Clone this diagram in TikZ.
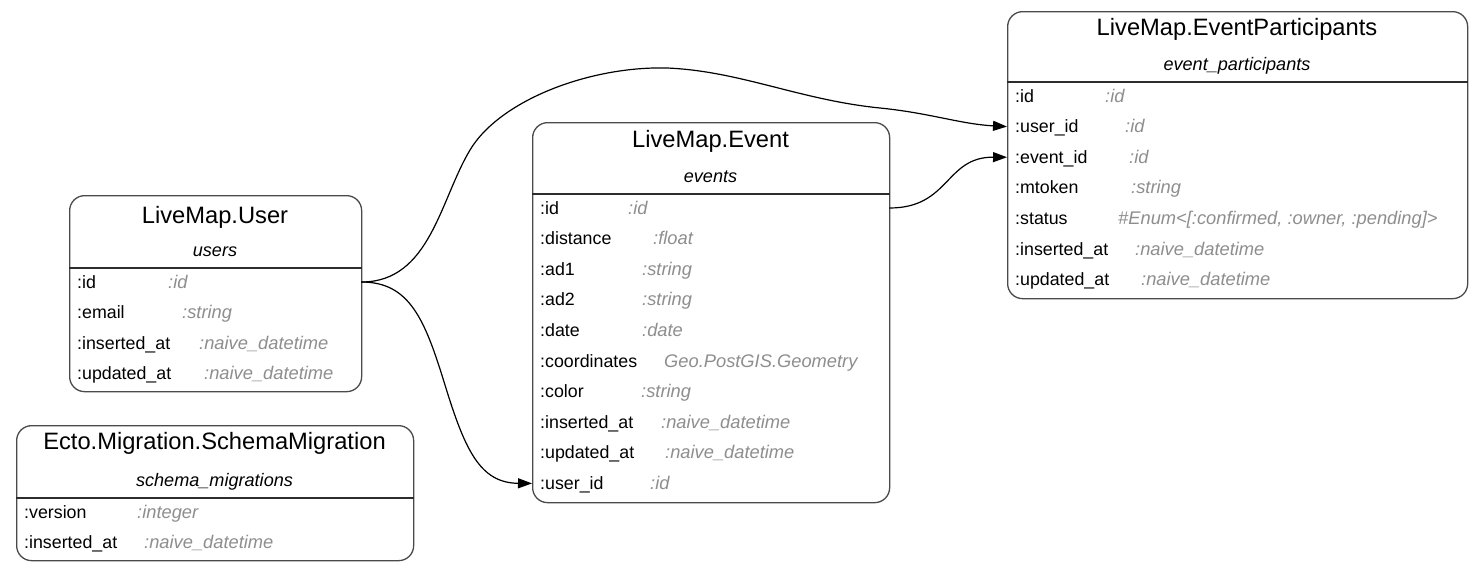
\documentclass[tikz,border=0pt]{standalone}
\usepackage{fontspec}
\setmainfont{Liberation Sans}
\usetikzlibrary{arrows.meta}
\definecolor{typegray}{HTML}{8E8E8E}
\definecolor{framegray}{HTML}{4A4A4A}

\begin{document}
\begin{tikzpicture}[x=1pt, y=-1pt,
  entity/.style={draw=framegray, line width=1.3pt, rounded corners=15pt, anchor=north west, inner sep=0pt},
  sepline/.style={draw=framegray!60!black, line width=1.3pt},
  title/.style={font=\fontsize{23.7}{28}\selectfont, text height=17pt, text depth=5pt, inner sep=0pt},
  tname/.style={font=\fontsize{18.1}{22}\selectfont\itshape, text height=13pt, text depth=1pt, inner sep=0pt},
  field/.style={anchor=west, align=left, font=\fontsize{17.8}{21}\selectfont, text height=13pt, text depth=1pt, inner xsep=8pt, inner ysep=0pt},
  ftype/.style={anchor=west, inner sep=0pt, text=typegray, font=\fontsize{18.3}{22}\selectfont\itshape, text height=13pt, text depth=1pt},
  fk/.style={line width=1.2pt, -{Triangle[length=14pt, width=10pt]}}]
  \useasboundingbox[fill=white] (0,0) rectangle (1484,571);

  % LiveMap.User
  \node[entity, minimum width=292pt, minimum height=196pt] (user) at (69,195) {};
  \node[title] (user-title) at (215,217) {LiveMap.User};
  \node[tname] (user-table) at (215,250) {users};
  \draw[sepline] (user.west |- 0,268) -- (user.east |- 0,268);
  \node[field, text width=276pt] (user-id) at (69,282) {:id};
  \node[ftype] (user-id-t) at (168,282) {:id};
  \node[field, text width=276pt] (user-email) at (69,312.6) {:email};
  \node[ftype] (user-email-t) at (182,312.6) {:string};
  \node[field, text width=276pt] (user-ins) at (69,343.2) {:inserted\_at};
  \node[ftype] (user-ins-t) at (199,343.2) {:naive\_datetime};
  \node[field, text width=276pt] (user-upd) at (69,373.8) {:updated\_at};
  \node[ftype] (user-upd-t) at (204,373.8) {:naive\_datetime};

  % Ecto.Migration.SchemaMigration
  \node[entity, minimum width=397pt, minimum height=135pt] (schema) at (16,425) {};
  \node[title] (schema-title) at (214.5,443) {Ecto.Migration.SchemaMigration};
  \node[tname] (schema-table) at (214.5,480) {schema\_migrations};
  \draw[sepline] (schema.west |- 0,498) -- (schema.east |- 0,498);
  \node[field, text width=381pt] (schema-ver) at (16,512) {:version};
  \node[ftype] (schema-ver-t) at (137,512) {:integer};
  \node[field, text width=381pt] (schema-ins) at (16,542.6) {:inserted\_at};
  \node[ftype] (schema-ins-t) at (144,542.6) {:naive\_datetime};

  % LiveMap.Event
  \node[entity, minimum width=357pt, minimum height=380pt] (event) at (532,122) {};
  \node[title] (event-title) at (710.5,141) {LiveMap.Event};
  \node[tname] (event-table) at (710.5,176) {events};
  \draw[sepline] (event.west |- 0,194) -- (event.east |- 0,194);
  \node[field, text width=341pt] (event-id) at (532,208) {:id};
  \node[ftype] (event-id-t) at (628,208) {:id};
  \node[field, text width=341pt] (event-dist) at (532,238.6) {:distance};
  \node[ftype] (event-dist-t) at (653,238.6) {:float};
  \node[field, text width=341pt] (event-ad1) at (532,269.2) {:ad1};
  \node[ftype] (event-ad1-t) at (642,269.2) {:string};
  \node[field, text width=341pt] (event-ad2) at (532,299.8) {:ad2};
  \node[ftype] (event-ad2-t) at (642,299.8) {:string};
  \node[field, text width=341pt] (event-date) at (532,330.4) {:date};
  \node[ftype] (event-date-t) at (642,330.4) {:date};
  \node[field, text width=341pt] (event-coord) at (532,361) {:coordinates};
  \node[ftype] (event-coord-t) at (664,361) {Geo.PostGIS.Geometry};
  \node[field, text width=341pt] (event-color) at (532,391.6) {:color};
  \node[ftype] (event-color-t) at (641,391.6) {:string};
  \node[field, text width=341pt] (event-ins) at (532,422.2) {:inserted\_at};
  \node[ftype] (event-ins-t) at (661,422.2) {:naive\_datetime};
  \node[field, text width=341pt] (event-upd) at (532,452.8) {:updated\_at};
  \node[ftype] (event-upd-t) at (665,452.8) {:naive\_datetime};
  \node[field, text width=341pt] (event-user) at (532,483.4) {:user\_id};
  \node[ftype] (event-user-t) at (650,483.4) {:id};

  % LiveMap.EventParticipants
  \node[entity, minimum width=460pt, minimum height=287pt] (part) at (1007,11) {};
  \node[title] (part-title) at (1237,29) {LiveMap.EventParticipants};
  \node[tname] (part-table) at (1237,64) {event\_participants};
  \draw[sepline] (part.west |- 0,82) -- (part.east |- 0,82);
  \node[field, text width=444pt] (part-id) at (1007,96) {:id};
  \node[ftype] (part-id-t) at (1105,96) {:id};
  \node[field, text width=444pt] (part-user) at (1007,126.6) {:user\_id};
  \node[ftype] (part-user-t) at (1125,126.6) {:id};
  \node[field, text width=444pt] (part-event) at (1007,157.2) {:event\_id};
  \node[ftype] (part-event-t) at (1129,157.2) {:id};
  \node[field, text width=444pt] (part-token) at (1007,187.8) {:mtoken};
  \node[ftype] (part-token-t) at (1131,187.8) {:string};
  \node[field, text width=444pt] (part-status) at (1007,218.4) {:status};
  \node[ftype] (part-status-t) at (1118,218.4) {\#Enum<[:confirmed, :owner, :pending]>};
  \node[field, text width=444pt] (part-ins) at (1007,249) {:inserted\_at};
  \node[ftype] (part-ins-t) at (1135,249) {:naive\_datetime};
  \node[field, text width=444pt] (part-upd) at (1007,279.6) {:updated\_at};
  \node[ftype] (part-upd-t) at (1141,279.6) {:naive\_datetime};

  % Foreign keys
  \draw[fk] (user-id.east) .. controls (430,282) and (440,200) .. (470,150)
    .. controls (500,100) and (590,66) .. (667,68)
    .. controls (740,71) and (800,100) .. (880,108)
    .. controls (930,113) and (960,124) .. (part-user.west);
  \draw[fk] (user-id.east) .. controls (410,282) and (425,320) .. (445,385)
    .. controls (465,450) and (480,483) .. (event-user.west);
  \draw[fk] (event-id.east) .. controls (950,208) and (945,157) .. (part-event.west);
\end{tikzpicture}
\end{document}
